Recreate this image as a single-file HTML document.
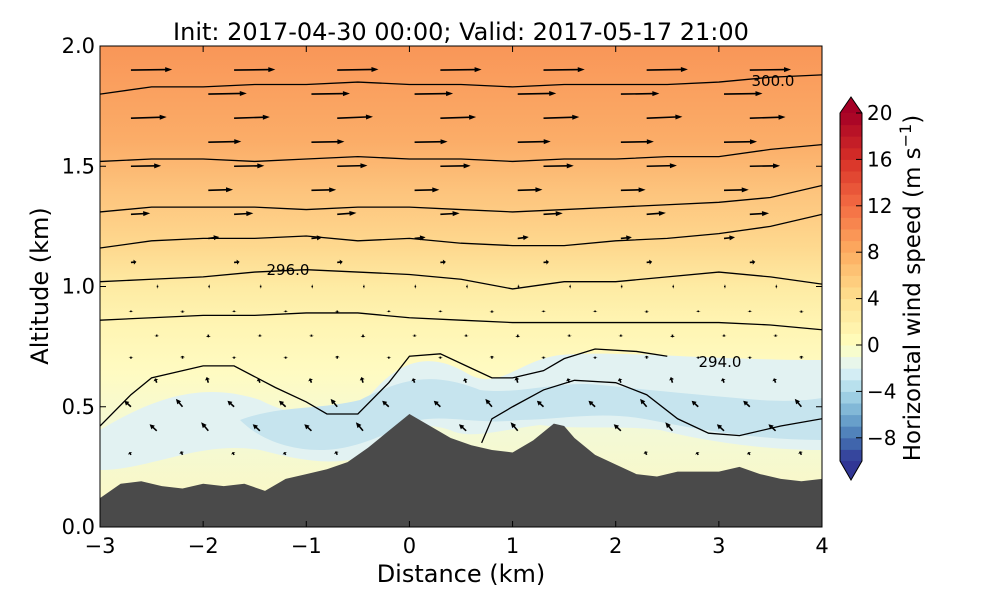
<!DOCTYPE html>
<html><head><meta charset="utf-8"><style>
body{margin:0;background:#fff;width:1000px;height:600px;overflow:hidden;font-family:"DejaVu Sans","Liberation Sans",sans-serif}
text{font-family:"DejaVu Sans","Liberation Sans",sans-serif}
</style></head><body>
<svg id="chart" width="1000" height="600" xmlns="http://www.w3.org/2000/svg">
<defs>
<clipPath id="pc"><rect x="100" y="46" width="722" height="481"/></clipPath>
<linearGradient id="bg" x1="0" y1="0" x2="0" y2="1">
<stop offset="0" stop-color="#f99658"/>
<stop offset="0.2" stop-color="#fbad68"/>
<stop offset="0.3" stop-color="#fdc37c"/>
<stop offset="0.42" stop-color="#fed98f"/>
<stop offset="0.5" stop-color="#feeba3"/>
<stop offset="0.58" stop-color="#fff5b3"/>
<stop offset="0.68" stop-color="#fffbc2"/>
<stop offset="0.8" stop-color="#f3f9d6"/>
<stop offset="1" stop-color="#fdf8c0"/>
</linearGradient>
</defs>
<text x="461" y="40" text-anchor="middle" font-size="24">Init: 2017-04-30 00:00; Valid: 2017-05-17 21:00</text>
<g clip-path="url(#pc)">
<rect x="100" y="46" width="722" height="481" fill="url(#bg)"/>
<g id="blobs"></g>
<g id="terrain"></g>
<g id="contours"></g>
<g id="arrows"></g>
</g>
<rect x="100" y="46" width="722" height="481" fill="none" stroke="#000" stroke-width="1"/>
<g id="axes"></g>
<g id="cbar"></g>
<text x="461" y="582" text-anchor="middle" font-size="24">Distance (km)</text>
<text transform="translate(48,286) rotate(-90)" text-anchor="middle" font-size="24">Altitude (km)</text>
<text transform="translate(920,288) rotate(-90)" text-anchor="middle" font-size="23">Horizontal wind speed (m s<tspan dy="-9" font-size="16">−1</tspan><tspan dy="9">)</tspan></text>
</svg>
<script>
const xTicks=[-3,-2,-1,0,1,2,3,4];
const yTicks=[0.0,0.5,1.0,1.5,2.0];
const cbTicks=[-8,-4,0,4,8,12,16,20];
const terrainX=[-3,-2.8,-2.6,-2.4,-2.2,-2.0,-1.8,-1.6,-1.4,-1.2,-1.0,-0.8,-0.6,-0.4,-0.2,0,0.2,0.4,0.6,0.8,1.0,1.2,1.4,1.5,1.6,1.8,2.0,2.2,2.4,2.6,2.8,3.0,3.2,3.4,3.6,3.8,4.0];
const terrainH=[0.12,0.18,0.19,0.17,0.16,0.18,0.17,0.18,0.15,0.2,0.22,0.24,0.27,0.33,0.4,0.47,0.42,0.37,0.34,0.32,0.31,0.36,0.43,0.42,0.37,0.3,0.26,0.22,0.21,0.23,0.23,0.23,0.25,0.22,0.2,0.19,0.2];
const contourX=[-3,-2.5,-2,-1.5,-1,-0.5,0,0.5,1,1.5,2,2.5,3,3.5,4];
const theta1=[1.80,1.83,1.83,1.84,1.84,1.85,1.84,1.84,1.83,1.84,1.84,1.84,1.85,1.87,1.88];
const theta2=[1.52,1.53,1.53,1.52,1.53,1.54,1.53,1.53,1.52,1.53,1.53,1.54,1.54,1.57,1.59];
const theta3=[1.31,1.33,1.33,1.33,1.32,1.33,1.33,1.32,1.31,1.32,1.33,1.34,1.35,1.37,1.42];
const theta4=[1.16,1.19,1.20,1.20,1.21,1.19,1.20,1.18,1.17,1.17,1.19,1.20,1.22,1.25,1.30];
const theta5=[1.02,1.03,1.04,1.06,1.07,1.06,1.05,1.03,0.99,1.02,1.02,1.04,1.06,1.04,1.01];
const theta6=[0.86,0.87,0.88,0.88,0.89,0.89,0.87,0.86,0.85,0.85,0.85,0.85,0.85,0.84,0.82];
const lowX=[-3,-2.7,-2.5,-2,-1.7,-1.3,-1.0,-0.8,-0.5,-0.2,0,0.3,0.6,0.8,1.0,1.3,1.5,1.8,2.2,2.5];
const lowH=[0.42,0.55,0.62,0.67,0.67,0.58,0.52,0.47,0.47,0.6,0.71,0.72,0.66,0.62,0.62,0.65,0.7,0.74,0.73,0.71];
const low2X=[0.7,0.8,1.0,1.3,1.6,2.0,2.3,2.6,2.9,3.2,3.6,4.0];
const low2H=[0.35,0.45,0.5,0.57,0.61,0.6,0.55,0.45,0.39,0.38,0.42,0.45];
const rowAlt=[1.9,1.8,1.7,1.6,1.5,1.4,1.3,1.2,1.1,1.0,0.9,0.8,0.7,0.6,0.5,0.4,0.3];
const rowU=[7.5,7,6.5,6,5.5,4.5,3.5,2,1,0.3,0,0,0,-0.3,-1.2,-1.3,-0.3];
const rowV=[0.1,0.1,0.2,0.1,0.1,0.1,0.2,0.2,0.1,0,-0.3,-0.4,0.4,0.8,1.1,1.2,0.5];
const colX=[-2.7,-2.2,-1.7,-1.2,-0.7,-0.2,0.3,0.8,1.3,1.8,2.3,2.8,3.3,3.8];
const ns="http://www.w3.org/2000/svg";
const X=v=>100+(v+3)*722/7, Y=v=>527-v*240.5;
function mk(t,a,p){const e=document.createElementNS(ns,t);for(const k in a)e.setAttribute(k,a[k]);p.appendChild(e);return e;}
function stops(v){const c=["#313695","#4575b4","#74add1","#abd9e9","#e0f3f8","#ffffbf","#fee090","#fdae61","#f46d43","#d73027","#a50026"];
 let n=v<0?0.5*(v+10)/10:0.5+0.5*v/20;
 let t=Math.max(0,Math.min(1,n))*10;const i=Math.min(9,Math.floor(t)),f=t-i;
 const h=s=>[1,3,5].map(k=>parseInt(s.substr(k,2),16));const a=h(c[i]),b=h(c[i+1]);
 return "rgb("+a.map((x,k)=>Math.round(x+(b[k]-x)*f)).join(",")+")";}
const blobs=document.getElementById('blobs');
let bp=mk('path',{d:"M100,430 C150,400 200,380 260,400 C300,420 330,420 370,395 C400,360 430,350 470,375 C500,390 520,360 560,355 C620,350 700,360 822,360 L822,450 C760,450 700,440 660,430 C620,425 580,430 540,425 C500,430 470,440 450,430 C420,420 400,430 380,450 C340,470 300,460 260,450 C200,440 150,470 100,470 Z",fill:"#e2f2f2"},blobs);

bp=mk('path',{d:"M240,420 C280,405 320,410 360,400 C400,380 430,370 480,390 C520,395 560,380 600,385 C650,390 700,395 760,400 C790,402 810,400 822,398 L822,440 C760,440 700,430 650,420 C600,410 560,420 520,420 C480,425 450,415 420,420 C390,430 360,450 320,450 C290,450 260,440 240,420 Z",fill:"#c6e4ee"},blobs);

let d="M"+X(terrainX[0])+","+Y(0);terrainX.forEach((x,i)=>d+=" L"+X(x)+","+Y(terrainH[i]));d+=" L"+X(4)+","+Y(0)+" Z";
const ter=mk('path',{d:d,fill:"#4a4a4a"},document.getElementById('terrain'));

const cg=document.getElementById('contours');
function line(xs,ys,name){let s="";xs.forEach((x,i)=>s+=(i?" L":"M")+X(x)+","+Y(ys[i]));const p=mk('path',{d:s,fill:"none",stroke:"#000","stroke-width":1.3},cg);
 }
[theta1,theta2,theta3,theta4,theta5,theta6].forEach((t,i)=>line(contourX,t,"theta-contour-"+(i+1)));
line(lowX,lowH,"theta-contour-294");line(low2X,low2H,"theta-contour-low");
[["300.0",773,86],["296.0",288,275],["294.0",720,367]].forEach(l=>{const t=mk('text',{x:l[1],y:l[2],"text-anchor":"middle","font-size":15,fill:"#000"},cg);t.textContent=l[0];
 });
const ag=document.getElementById('arrows');
rowAlt.forEach((alt,r)=>{colX.forEach((cx,c)=>{const xx=cx+(r%2?0.25:0);if(xx>3.95)return;
 if(alt>=1.1&&(r+c)%2===1)return;
 const th=terrainH[Math.round((xx+3)/0.2)]||0;if(alt<th+0.04)return;
 const u=rowU[r]*5.5,v=rowV[r]*(c%3===1?1.3:1)*5.5;const x0=X(xx),y0=Y(alt),L=Math.hypot(u,v);
 const g=mk('g',{},ag);
 if(L<1.5){mk('circle',{cx:x0,cy:y0,r:0.8,fill:"#000"},g);return;}
 const ux=u/L,uy=-v/L,x1=x0+u,y1=y0-v,hl=Math.min(7,L*0.5);
 mk('line',{x1:x0,y1:y0,x2:x1-ux*hl*0.6,y2:y1-uy*hl*0.6,stroke:"#000","stroke-width":1.6},g);
 mk('polygon',{points:x1+","+y1+" "+(x1-ux*hl-uy*2.5)+","+(y1-uy*hl+ux*2.5)+" "+(x1-ux*hl+uy*2.5)+","+(y1-uy*hl-ux*2.5),fill:"#000"},g);});});
const ax=document.getElementById('axes');
xTicks.forEach(v=>{const x=X(v);mk('line',{x1:x,y1:527,x2:x,y2:521,stroke:"#000"},ax);mk('line',{x1:x,y1:46,x2:x,y2:52,stroke:"#000"},ax);
 const t=mk('text',{x:x,y:553,"text-anchor":"middle","font-size":21},ax);t.textContent=(v<0?"−"+(-v):v);
 });
yTicks.forEach(v=>{const y=Y(v);mk('line',{x1:100,y1:y,x2:106,y2:y,stroke:"#000"},ax);mk('line',{x1:822,y1:y,x2:816,y2:y,stroke:"#000"},ax);
 const t=mk('text',{x:95,y:y+7,"text-anchor":"end","font-size":21},ax);t.textContent=v.toFixed(1);
 });
const cb=document.getElementById('cbar');const CY=v=>461-(v+10)*(348/30);
for(let v=-10;v<20;v++){const r=mk('rect',{x:840,y:CY(v+1),width:22,height:CY(v)-CY(v+1)+0.5,fill:stops(v+0.5)},cb);
 }
mk('polygon',{points:"840,"+CY(20)+" 862,"+CY(20)+" 851,97",fill:stops(21)},cb);
mk('polygon',{points:"840,"+CY(-10)+" 862,"+CY(-10)+" 851,480",fill:"#313695"},cb);
mk('path',{d:"M840,"+CY(20)+" L851,97 L862,"+CY(20)+" L862,"+CY(-10)+" L851,480 L840,"+CY(-10)+" Z",fill:"none",stroke:"#000"},cb);
cbTicks.forEach(v=>{const y=CY(v);mk('line',{x1:856,y1:y,x2:862,y2:y,stroke:"#000"},cb);
 const t=mk('text',{x:867,y:y+7,"font-size":20},cb);t.textContent=(v<0?"−"+(-v):v);
 });
</script>
</body></html>
